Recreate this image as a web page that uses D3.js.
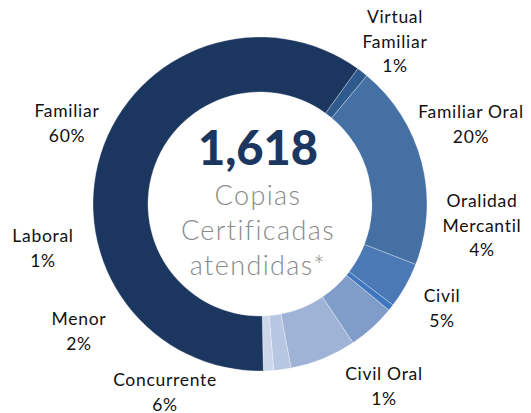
<!DOCTYPE html>
<html>
<head>
<meta charset="utf-8">
<script src="https://cdn.jsdelivr.net/npm/d3@7"></script>
<style>
  body { margin: 0; background: #fff; }
  svg { display: block; }
</style>
</head>
<body>
<script>
// copias certificadas por materia (total 1,618)
var categories = ['Virtual Familiar', 'Familiar Oral', 'Oralidad Mercantil', 'Civil Oral', 'Civil',
                  'Concurrente', 'Menor', 'Laboral', 'Familiar'];
var counts = [18, 321, 72, 10, 75, 104, 27, 16, 975];
var sliceColors = ['#2e5a8e', '#4470a3', '#4a79b6', '#3f76bd', '#809dca',
                   '#9fb3d6', '#b7c6e1', '#cdd7ea', '#1b375f'];
var centerLines = ['Copias', 'Certificadas', 'atendidas*'];

// where excel dropped each label (centre x, first baseline y) and how it wraps
var labelLayout = {
  'Virtual Familiar':   {x: 395, y: 23,  lines: ['Virtual', 'Familiar']},
  'Familiar Oral':      {x: 471, y: 118, lines: ['Familiar Oral']},
  'Oralidad Mercantil': {x: 482, y: 207, lines: ['Oralidad', 'Mercantil']},
  'Civil':              {x: 442, y: 302, lines: ['Civil']},
  'Civil Oral':         {x: 384, y: 380, lines: ['Civil Oral']},
  'Concurrente':        {x: 165, y: 386, lines: ['Concurrente']},
  'Menor':              {x: 79,  y: 325, lines: ['Menor']},
  'Laboral':            {x: 43,  y: 242, lines: ['Laboral']},
  'Familiar':           {x: 67,  y: 117, lines: ['Familiar']}
};

var W = 531, H = 413;
var cx = 260, cy = 204, rOuter = 167, rInner = 112;
var lineH = 24.5;

var total = d3.sum(counts);
var fmtPct = d3.format('.0%');
var fmtTotal = d3.format(',');

var data = categories.map(function(c, i){ return {name: c, value: counts[i], color: sliceColors[i]}; });

var svg = d3.select('body').append('svg').attr('width', W).attr('height', H);
var g = svg.append('g').attr('transform', 'translate(' + cx + ',' + cy + ')');

var start = 35.8 * Math.PI / 180;
var pie = d3.pie().sort(null).value(function(d){ return d.value; })
  .startAngle(start).endAngle(start + 2 * Math.PI);
var arc = d3.arc().innerRadius(rInner).outerRadius(rOuter);

g.selectAll('path.slice')
  .data(pie(data))
  .join('path')
  .attr('class', 'slice')
  .attr('d', arc)
  .attr('fill', function(d){ return d.data.color; })
  .attr('stroke', 'rgba(255,255,255,0.45)')
  .attr('stroke-width', 0.7);

// centre text
g.append('text')
  .attr('text-anchor', 'middle')
  .attr('x', -2).attr('y', -39)
  .style('font-family', 'Lato, "Open Sans", sans-serif')
  .style('font-weight', 900)
  .style('font-size', '47px')
  .style('fill', '#1b375f')
  .text(fmtTotal(total));

g.selectAll('text.sub')
  .data(centerLines)
  .join('text')
  .attr('class', 'sub')
  .attr('text-anchor', 'middle')
  .attr('x', -2)
  .attr('y', function(d, i){ return 1 + i * 35; })
  .style('font-family', 'Lato, "Open Sans", sans-serif')
  .style('font-weight', 300)
  .style('font-size', '27px')
  .style('letter-spacing', '1.4px')
  .style('fill', '#8a8a8a')
  .text(function(d){ return d; });

// data labels
var labels = svg.selectAll('text.lbl')
  .data(data)
  .join('text')
  .attr('class', 'lbl')
  .attr('text-anchor', 'middle')
  .style('font-family', 'Lato, "Open Sans", sans-serif')
  .style('font-size', '17.5px')
  .style('letter-spacing', '0.7px')
  .style('fill', '#111');

labels.each(function(d){
  var lay = labelLayout[d.name];
  var t = d3.select(this);
  var lines = lay.lines.concat([fmtPct(d.value / total)]);
  lines.forEach(function(s, i){
    t.append('tspan').attr('x', lay.x).attr('y', lay.y + i * lineH).text(s);
  });
});
</script>
</body>
</html>
